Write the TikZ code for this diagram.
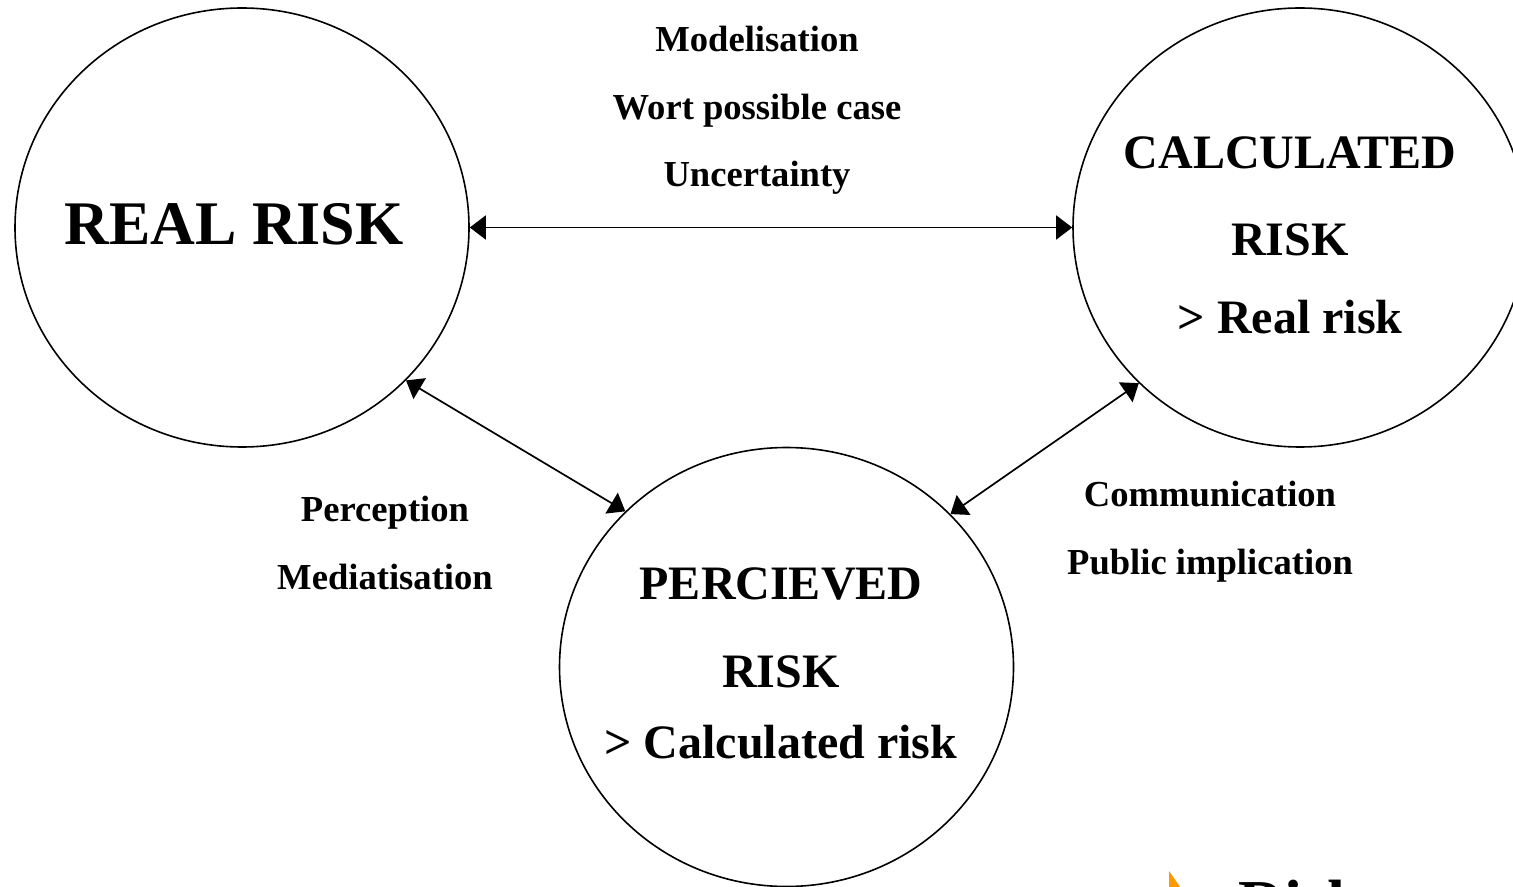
\documentclass[tikz,border=0pt]{standalone}
\usepackage{fontspec}
\setmainfont{Liberation Serif}
\usetikzlibrary{arrows.meta}
\usetikzlibrary{shapes.geometric}
\definecolor{bulletorange}{RGB}{255,153,0}
\tikzset{
	riskcircle/.style={draw,ellipse,line width=0.8pt,minimum width=227pt,minimum height=219.5pt},
	risktext/.style={align=center,inner sep=0pt,font=\bfseries\fontsize{24}{39}\selectfont},
	factors/.style={align=center,inner sep=0pt,font=\bfseries\fontsize{18.3}{33.75}\selectfont},
	link/.style={{Triangle[length=8pt,width=12pt]}-{Triangle[length=8pt,width=12pt]},line width=0.85pt}
}
\begin{document}
\begin{tikzpicture}[x=0.5pt,y=-0.5pt]
	\useasboundingbox (0,0) rectangle (1513,887);

	\node[riskcircle] (real) at (242,227.5) {};
	\node[riskcircle] (calc) at (1300,227.5) {};
	\node[riskcircle] (perc) at (786.5,667) {};

	\node[risktext,anchor=base,font=\bfseries\fontsize{31}{37}\selectfont] (realtext) at (234,245) {REAL RISK};
	\node[risktext,anchor=north] (calctext) at (1290,136) {CALCULATED\\[4.5pt] RISK\\ > Real risk};
	\node[risktext,anchor=north,font=\bfseries\fontsize{24}{35.5}\selectfont] (perctext) at (781,567) {PERCIEVED\\[8.5pt] RISK\\ > Calculated risk};

	\draw[link] (real.east) -- (calc.west);
	\draw[link] (real.-43.4) -- (perc.136);
	\draw[link] (perc.43.8) -- (calc.-136.2);

	\node[factors,anchor=north] (model) at (757,26) {Modelisation\\ Wort possible case\\ Uncertainty};
	\node[factors,anchor=north] (percep) at (385,496) {Perception\\ Mediatisation};
	\node[factors,anchor=north] (commun) at (1210,481) {Communication\\ Public implication};

	\fill[bulletorange] (1169,871) -- (1192,904) -- (1169,937) -- cycle;
	\node[anchor=north west,inner sep=0pt,font=\bfseries\fontsize{32}{38}\selectfont] (risk) at (1238,880) {Risk};
\end{tikzpicture}
\end{document}
